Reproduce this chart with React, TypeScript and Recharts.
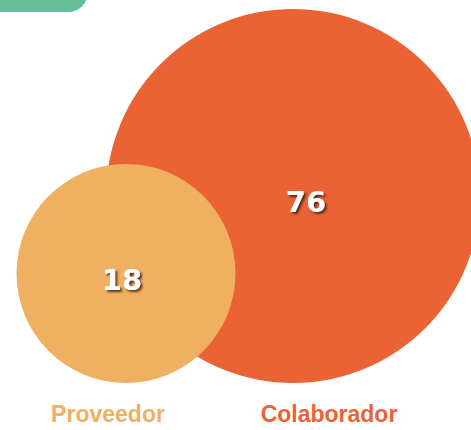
import { ScatterChart, Scatter, XAxis, YAxis, ZAxis } from 'recharts'

// groups, counts, and circle geometry (chart units = px, y up)
const names = ['Colaborador', 'Proveedor']
const counts = [76, 18]
const centerX = [293, 126]
const centerY = [234, 156.5]
const radii = [187, 109.5]
const colors = ['#EB6234', '#F0B062']

const rows = names.map((name, i) => ({
  name,
  value: counts[i],
  x: centerX[i],
  y: centerY[i],
  area: Math.PI * radii[i] * radii[i],
  color: colors[i],
}))

const maxArea = Math.max(...rows.map((r) => r.area))

// small nudges of the count labels off the circle centres, as in the original
const labelDx: Record<string, number> = { Colaborador: 13, Proveedor: -4 }

const Bubble = (props: any) => {
  const { cx, cy, width, payload } = props
  return (
    <g>
      <circle cx={cx} cy={cy} r={width / 2} fill={payload.color} />
      <text
        x={cx}
        y={cy}
        dx={labelDx[payload.name] ?? 0}
        dy={6}
        textAnchor="middle"
        dominantBaseline="central"
        fill="#fff"
        fontFamily="DejaVu Sans"
        fontWeight="bold"
        fontSize={29}
        filter="url(#txtShadow)"
      >
        {payload.value}
      </text>
    </g>
  )
}

const legendX = [329, 108]

export default function App() {
  return (
    <div style={{ position: 'fixed', left: 0, top: 0, width: 471, height: 430, background: '#fff', overflow: 'hidden' }}>
      <div
        style={{
          position: 'absolute',
          left: -20,
          top: -10,
          width: 108,
          height: 22,
          background: '#66BE98',
          borderBottomRightRadius: 20,
          zIndex: 2,
        }}
      />
      <ScatterChart width={471} height={430} margin={{ top: 0, right: 0, bottom: 0, left: 0 }}>
        <defs>
          <filter id="txtShadow" x="-20%" y="-20%" width="150%" height="150%">
            <feDropShadow dx={2} dy={2} stdDeviation={1.2} floodColor="#3b2410" floodOpacity={0.85} />
          </filter>
        </defs>
        <XAxis type="number" dataKey="x" domain={[0, 471]} hide />
        <YAxis type="number" dataKey="y" domain={[0, 430]} hide />
        <ZAxis type="number" dataKey="area" domain={[0, maxArea]} range={[0, maxArea]} />
        <Scatter data={rows} shape={<Bubble />} isAnimationActive={false} />
      </ScatterChart>
      {rows.map((r, i) => (
        <span
          key={r.name}
          style={{
            position: 'absolute',
            left: legendX[i],
            transform: 'translateX(-50%)',
            top: 401,
            color: r.color,
            fontFamily: 'Liberation Sans',
            fontWeight: 'bold',
            fontSize: 23,
            whiteSpace: 'nowrap',
          }}
        >
          {r.name}
        </span>
      ))}
    </div>
  )
}
